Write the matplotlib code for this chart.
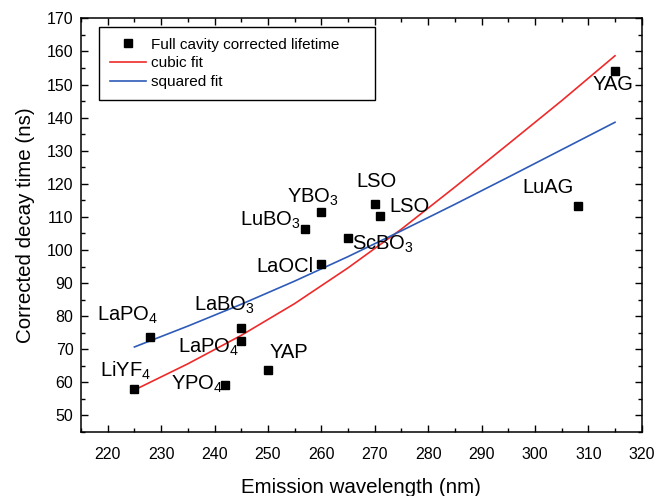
import matplotlib
matplotlib.use("Agg")
from matplotlib import pyplot as plt

plt.rcParams['font.family'] = ['Liberation Sans', 'DejaVu Sans']
plt.rcParams['mathtext.fontset'] = 'custom'
plt.rcParams['mathtext.rm'] = 'Liberation Sans'
plt.rcParams['mathtext.it'] = 'Liberation Sans'

# measured points
wavelength = [225, 228, 242, 245, 245, 250, 260, 257, 260, 265, 270, 271, 308, 315]
lifetime = [58.0, 73.7, 59.1, 76.3, 72.4, 63.8, 95.8, 106.3, 111.4, 103.6, 114.0, 110.2, 113.4, 154.0]

# labels: text, x, y (baseline, left)
labels = ["LiYF$_4$", "LaPO$_4$", "YPO$_4$", "LaBO$_3$", "LaPO$_4$", "YAP", "LaOCl",
          "LuBO$_3$", "YBO$_3$", "ScBO$_3$", "LSO", "LSO", "LuAG", "YAG"]
label_x = [218.6, 217.9, 231.9, 236.2, 233.1, 250.3, 247.9, 244.8, 253.5, 265.7, 266.6, 272.7, 297.7, 310.8]
label_y = [61.8, 78.6, 57.8, 81.6, 68.9, 67.3, 93.5, 107.3, 114.2, 100.2, 119.0, 111.6, 117.2, 148.2]

# fit curves
fit_x = [225, 235, 245, 255, 265, 275, 285, 295, 305, 315]
cubic_y = [57.7, 65.6, 74.2, 83.8, 94.6, 106.3, 119.0, 132.0, 145.1, 158.7]
squared_y = [70.7, 77.0, 83.6, 90.6, 98.0, 105.8, 113.8, 122.0, 130.3, 138.6]

fig = plt.figure(figsize=(6.69, 4.96), dpi=100)
ax = fig.add_axes([0.1211, 0.129, 0.8381, 0.834])

ax.plot(wavelength, lifetime, 's', color='black', markersize=6, label='Full cavity corrected lifetime', zorder=3)
ax.plot(fit_x, cubic_y, color='#ee2a2a', lw=1.2, label='cubic fit')
ax.plot(fit_x, squared_y, color='#2e5bb8', lw=1.2, label='squared fit')

for i in range(len(labels)):
    ax.text(label_x[i], label_y[i], labels[i], fontsize=14.5, ha='left', va='baseline')

ax.set_xlim(215, 320)
ax.set_ylim(45, 170)
ax.set_xticks(range(220, 321, 10))
ax.set_xticks(range(215, 321, 5), minor=True)
ax.set_yticks(range(50, 171, 10))
ax.set_yticks(range(45, 171, 5), minor=True)
ax.tick_params(which='both', direction='in', top=True, right=True, labelsize=11.5)
ax.tick_params(which='major', length=5, width=1)
ax.tick_params(which='minor', length=3, width=1)
ax.tick_params(axis='x', which='both', pad=11)
ax.tick_params(axis='y', which='both', pad=5.5)
for s in ax.spines.values():
    s.set_linewidth(1.1)

ax.set_xlabel("Emission wavelength (nm)", fontsize=14.8, labelpad=11)
ax.set_ylabel("Corrected decay time (ns)", fontsize=14.8, labelpad=8.5)

leg = ax.legend(loc='upper left', bbox_to_anchor=(0.032, 0.979, 0.492, 0.0), mode='expand',
                borderaxespad=0, fontsize=11, fancybox=False, edgecolor='black', framealpha=1,
                handlelength=2.4, handletextpad=0.3, labelspacing=0.3, borderpad=0.7)
leg.get_frame().set_linewidth(1)

fig.savefig("out.png", dpi=100)
